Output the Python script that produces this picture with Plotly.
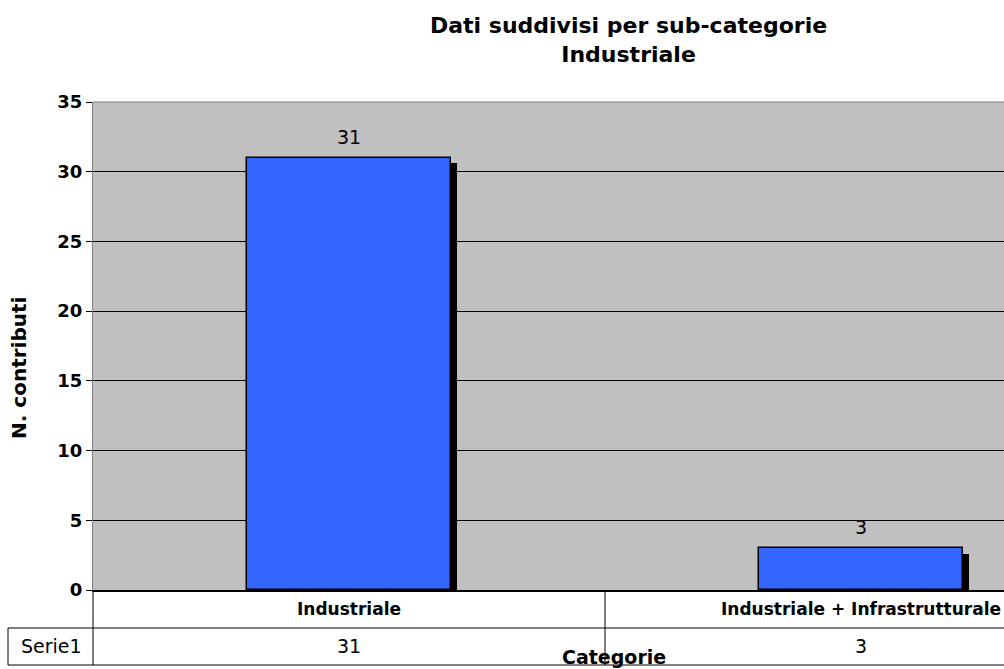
import plotly.graph_objects as go

categories = ["Industriale", "Industriale + Infrastrutturale"]
values = [31, 3]
series_name = "Serie1"
y_ticks = [0, 5, 10, 15, 20, 25, 30, 35]
title_lines = ["Dati suddivisi per sub-categorie", "Industriale"]
y_title = "N. contributi"
x_title = "Categorie"

FONT = "DejaVu Sans, Arial, sans-serif"
OFF = 0  # body margin removed by post_script
WIN_W, WIN_H = 1004, 669
W, H = WIN_W - OFF, WIN_H - OFF
# plot area in window pixels: x 93..1004, y 102..590
PL, PT, PB = 93, 102, 590
ML, MT, MB = PL - OFF, PT - OFF, WIN_H - PB
PW = WIN_W - PL
PH = PB - PT
CAT_PX = 512  # pixel width of one category slot

def px_x(p):
    return (p - PL) / PW

def px_y(p):
    return (PB - p) / PH

fig = go.Figure()
# shadow
fig.add_trace(go.Bar(
    x=categories, y=[v - 0.4 for v in values], width=0.4, offset=-0.2 + 6 / CAT_PX,
    marker=dict(color="black", line=dict(width=0)), hoverinfo="skip", showlegend=False,
))
fig.add_trace(go.Bar(
    x=categories, y=values, width=0.4, offset=-0.2, name=series_name,
    marker=dict(color="#3366FF", line=dict(color="black", width=1.5)), showlegend=False,
))

def ann(**kw):
    d = dict(showarrow=False, xanchor="center", yanchor="middle")
    d.update(kw)
    return d

annotations = []
for c, v in zip(categories, values):
    annotations.append(ann(x=c, y=v, xref="x", yref="y", text=str(v), yshift=21,
                           font=dict(family=FONT, size=19, color="black")))
    annotations.append(ann(x=c, y=px_y(609), xref="x", yref="paper", text="<b>%s</b>" % c,
                           font=dict(family=FONT, size=17, color="black")))
    annotations.append(ann(x=c, y=px_y(646), xref="x", yref="paper", text=str(v),
                           font=dict(family=FONT, size=19, color="black")))
annotations.append(ann(x=px_x(51), y=px_y(646), xref="paper", yref="paper", text=series_name,
                       font=dict(family=FONT, size=19, color="black")))
annotations.append(ann(x=px_x(614), y=px_y(657), xref="paper", yref="paper", text="<b>%s</b>" % x_title,
                       font=dict(family=FONT, size=19, color="black")))
annotations.append(ann(x=px_x(19), y=px_y(368), xref="paper", yref="paper", text="<b>%s</b>" % y_title,
                       textangle=-90, font=dict(family=FONT, size=20, color="black")))
annotations.append(ann(x=px_x(628), y=px_y(40), xref="paper", yref="paper",
                       text="<b>" + "<br>".join(title_lines) + "</b>",
                       font=dict(family=FONT, size=22, color="black")))

line = dict(color="black", width=1)
shapes = [
    dict(type="line", xref="paper", yref="paper", x0=0, x1=0, y0=0, y1=px_y(665), line=line),
    dict(type="line", xref="x", yref="paper", x0=0.5, x1=0.5, y0=0, y1=px_y(665), line=line),
    dict(type="line", xref="paper", yref="paper", x0=px_x(8), x1=1, y0=px_y(628), y1=px_y(628), line=line),
    dict(type="line", xref="paper", yref="paper", x0=px_x(8), x1=1, y0=px_y(665), y1=px_y(665), line=line),
    dict(type="line", xref="paper", yref="paper", x0=px_x(8), x1=px_x(8), y0=px_y(628), y1=px_y(665), line=line),
    dict(type="line", xref="paper", yref="paper", x0=0, x1=1, y0=1, y1=1,
         line=dict(color="#808080", width=1), layer="above"),
]

fig.update_layout(
    width=W, height=H,
    margin=dict(l=ML, r=0, t=MT, b=MB, pad=0),
    paper_bgcolor="white", plot_bgcolor="#C0C0C0",
    barmode="overlay", bargap=0,
    font=dict(family=FONT, size=18, color="black"),
    annotations=annotations, shapes=shapes,
    xaxis=dict(type="category", range=[-0.5, -0.5 + PW / CAT_PX], showticklabels=False,
               ticks="", showgrid=False, showline=True, linecolor="black", linewidth=2,
               zeroline=False, fixedrange=True),
    yaxis=dict(range=[0, 35], tickvals=y_ticks, ticks="outside", ticklen=6, tickcolor="black",
               tickwidth=1, showgrid=True, gridcolor="black", gridwidth=1, zeroline=False,
               showline=True, linecolor="#808080", linewidth=1,
               tickfont=dict(family=FONT, size=18, color="black", weight="bold"), fixedrange=True),
)

fig.write_html("out.html", config={"displayModeBar": False},
               post_script="document.body.style.margin='0';document.body.style.overflow='hidden';")
